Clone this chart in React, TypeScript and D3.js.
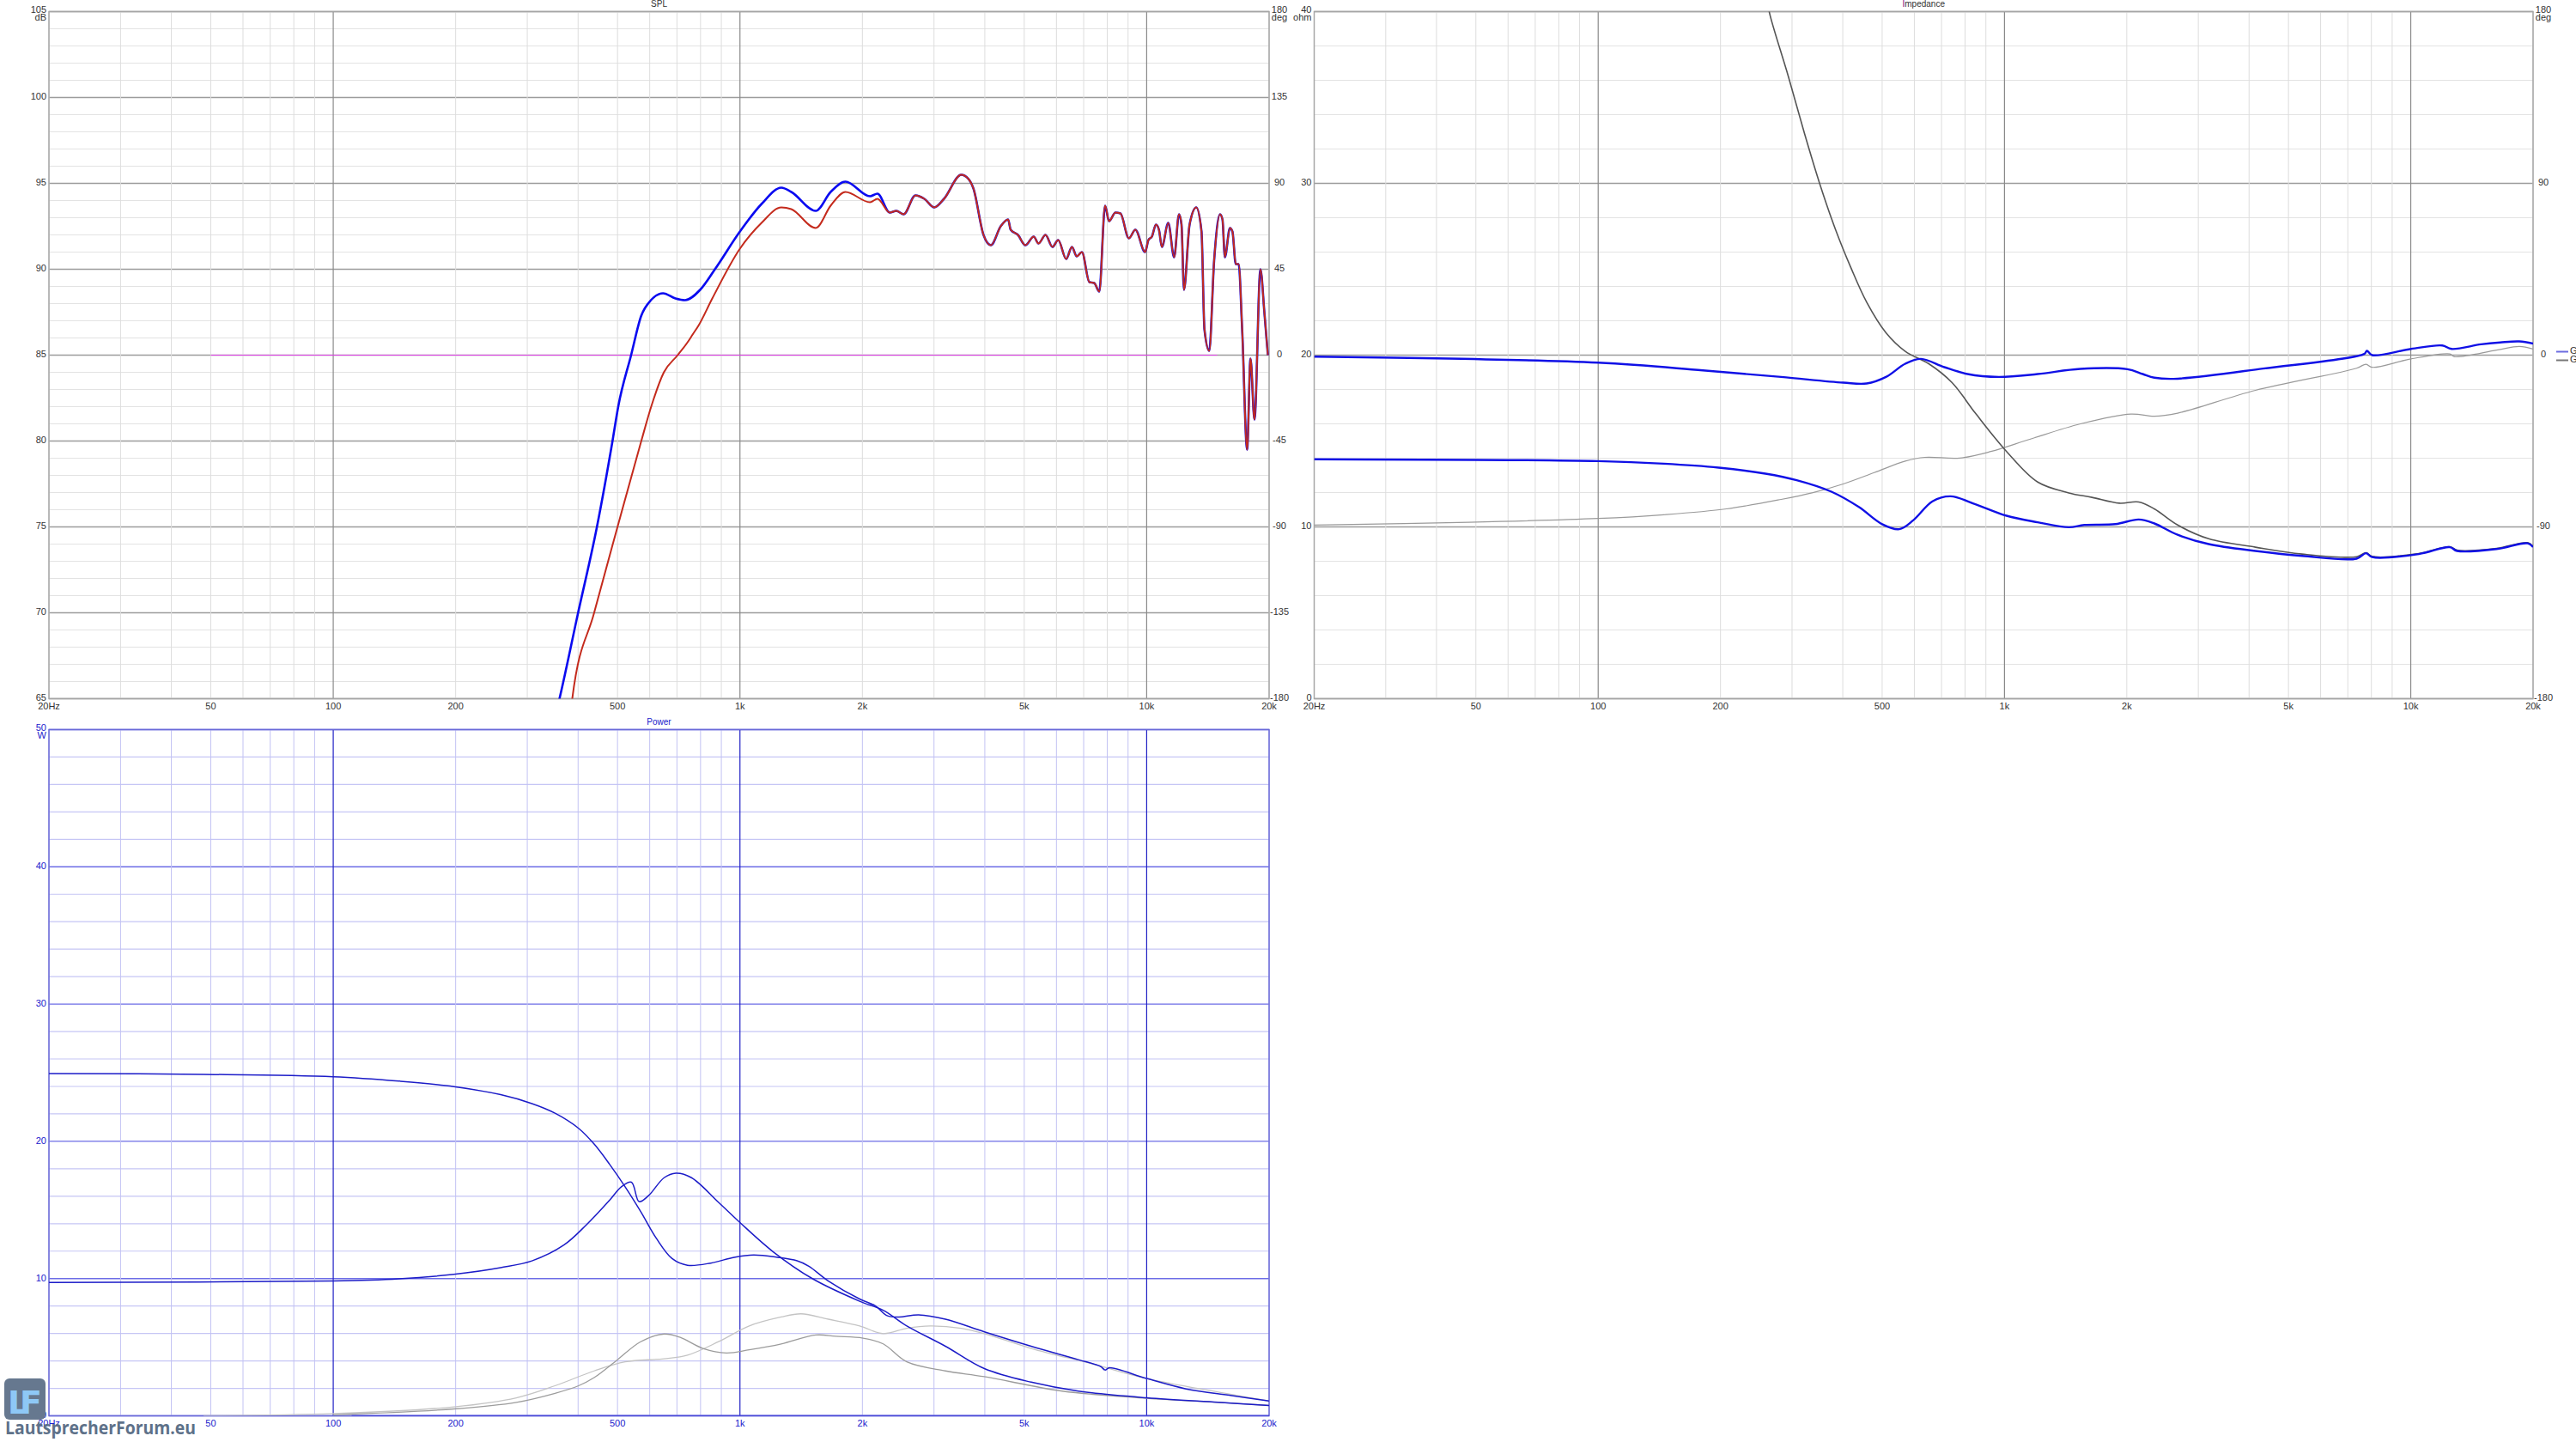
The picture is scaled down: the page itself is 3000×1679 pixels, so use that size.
import React from 'react';
import * as d3 from 'd3';

// x axis (shared by all three panels)
const freqTicks = [20, 50, 100, 200, 500, 1000, 2000, 5000, 10000, 20000];
const freqLabels = ['20Hz', '50', '100', '200', '500', '1k', '2k', '5k', '10k', '20k'];

// SPL panel
const splTicks = [65, 70, 75, 80, 85, 90, 95, 100, 105];
const splPhaseTicks = [-180, -135, -90, -45, 0, 45, 90, 135, 180];
const blueLowFreq = [345, 360, 400, 445, 486, 502, 540, 572, 604, 647, 694, 733, 798, 868, 1000, 1130, 1264, 1337, 1536, 1671, 1817, 2088, 2178];
const blueLowDb = [63.2, 65, 70, 75, 80, 82, 85, 87.3, 88.2, 88.6, 88.3, 88.2, 88.8, 90, 92.2, 93.8, 94.75, 94.5, 93.4, 94.5, 95.1, 94.25, 94.4];
const redLowFreq = [380, 387, 438, 500, 572, 605, 650, 703, 746, 765, 790, 855, 1000, 1130, 1264, 1337, 1536, 1671, 1817, 2088, 2178];
const redLowDb = [63.3, 65, 70, 75, 80, 82, 84, 85, 85.8, 86.2, 86.7, 88.3, 91.2, 92.7, 93.6, 93.5, 92.4, 93.7, 94.5, 93.9, 94.1];
const splHighFreq = [2336, 2424, 2526, 2700, 2840, 3004, 3175, 3500, 3648, 3750, 3970, 4140, 4376, 4564, 4630, 4825, 5032, 5276, 5420, 5640, 5866, 6060, 6340, 6550, 6730, 6930, 7230, 7430, 7646, 7904, 8080, 8380, 8620, 9040, 9380, 9910, 10100, 10300, 10540, 10720, 10900, 11300, 11680, 12010, 12180, 12350, 12750, 13240, 13640, 13870, 14250, 14650, 15150, 15360, 15570, 16020, 16250, 16560, 16830, 17170, 17660, 18000, 18410, 19040, 19470, 19860];
const splHighDb = [93.3, 93.4, 93.2, 94.3, 94.1, 93.6, 94.1, 95.5, 95.25, 94.7, 92, 91.4, 92.5, 92.9, 92.3, 92, 91.4, 91.9, 91.5, 92, 91.3, 91.7, 90.6, 91.3, 90.75, 91, 89.25, 89.2, 88.7, 93.7, 92.8, 93.3, 93.25, 91.8, 92.3, 91, 91.7, 91.9, 92.6, 92.3, 91.3, 92.7, 90.7, 93.2, 92.6, 88.8, 92.6, 93.6, 92.2, 86.5, 85.25, 90.5, 93.2, 92.9, 90.7, 92.4, 92.2, 90.3, 90.3, 86.5, 79.5, 84.8, 81.25, 90, 87.5, 85];
const phaseFreq = [50, 14900];
const phaseDb = [85, 85];

// Impedance panel
const ohmTicks = [0, 10, 20, 30, 40];
const impPhaseTicks = [-180, -90, 0, 90, 180];
const impUpperFreq = [20, 100, 181, 282, 401, 458, 511, 570, 623, 711, 811, 968, 1207, 1538, 2007, 2189, 2338, 2610, 4334, 7684, 7800, 8034, 10015, 11950, 12600, 14890, 16600, 18500, 20000];
const impUpperOhm = [19.91, 19.56, 19.11, 18.73, 18.4, 18.35, 18.73, 19.5, 19.78, 19.3, 18.9, 18.73, 18.9, 19.2, 19.18, 18.9, 18.69, 18.62, 19.22, 20.07, 20.25, 20.0, 20.36, 20.56, 20.36, 20.63, 20.74, 20.8, 20.67];
const impLowerFreq = [20, 100, 145, 198, 258, 308, 375, 438, 500, 551, 596, 665, 737, 848, 1012, 1207, 1440, 1572, 1875, 2140, 2338, 2668, 3182, 4147, 5402, 7356, 7760, 8034, 10470, 12480, 13000, 16260, 19400, 20000];
const impLowerOhm = [13.94, 13.83, 13.68, 13.45, 13.1, 12.72, 12.05, 11.16, 10.16, 9.87, 10.38, 11.49, 11.78, 11.32, 10.65, 10.27, 9.98, 10.11, 10.16, 10.43, 10.2, 9.54, 9.0, 8.6, 8.31, 8.15, 8.47, 8.24, 8.42, 8.82, 8.6, 8.71, 9.04, 8.82];
const impDarkFreq = [262, 264, 294, 322, 351, 384, 419, 458, 511, 570, 651, 743, 848, 1012, 1207, 1440, 1642, 1917, 2140, 2338, 2668, 3182, 4147, 5402, 7356, 7760, 8034, 10470, 12480, 13000, 16260, 19400, 20000];
const impDarkOhm = [40.5, 39.93, 36.2, 32.9, 29.98, 27.3, 25.08, 23.08, 21.3, 20.22, 19.5, 18.4, 16.62, 14.39, 12.61, 11.98, 11.72, 11.38, 11.45, 11.05, 10.11, 9.31, 8.82, 8.42, 8.26, 8.5, 8.28, 8.45, 8.85, 8.65, 8.75, 9.08, 8.86];
const impLightFreq = [20, 48, 100, 145, 207, 282, 336, 401, 478, 570, 637, 776, 926, 1154, 1538, 2048, 2338, 2668, 4147, 7356, 7760, 8034, 10015, 12480, 12800, 16260, 18500, 20000];
const impLightOhm = [10.11, 10.27, 10.49, 10.71, 11.05, 11.6, 11.98, 12.5, 13.16, 13.83, 14.05, 14.01, 14.39, 15.1, 16.0, 16.57, 16.44, 16.62, 17.95, 19.24, 19.47, 19.29, 19.78, 20.07, 19.91, 20.29, 20.51, 20.36];

// Power panel
const wattTicks = [0, 10, 20, 30, 40, 50];
const powAFreq = [20, 48, 100, 145, 198, 258, 308, 351, 401, 438, 478, 522, 570, 623, 681, 743, 848, 968, 1080, 1236, 1382, 1477, 1650, 1969, 2151, 2300, 2460, 2750, 3200, 3990, 5200, 6790, 7700, 7900, 8100, 10000, 12500, 16200, 20000];
const powAW = [24.94, 24.88, 24.71, 24.39, 23.99, 23.4, 22.75, 22.05, 20.95, 19.8, 18.33, 16.69, 14.89, 12.93, 11.46, 10.97, 11.13, 11.55, 11.72, 11.55, 11.29, 10.9, 9.82, 8.51, 8.02, 7.3, 7.2, 7.36, 7.04, 6.12, 5.07, 4.09, 3.6, 3.34, 3.5, 2.72, 1.96, 1.47, 1.08];
const powBFreq = [20, 100, 145, 198, 258, 308, 369, 419, 478, 511, 541, 565, 596, 651, 696, 760, 886, 1000, 1207, 1510, 1969, 2250, 2572, 3200, 3990, 5200, 6790, 10000, 15000, 20000];
const powBW = [9.72, 9.82, 9.98, 10.31, 10.8, 11.29, 12.44, 13.91, 15.71, 16.69, 17.02, 15.61, 16.04, 17.35, 17.68, 17.35, 15.55, 14.08, 11.95, 9.98, 8.35, 7.69, 6.55, 5.07, 3.44, 2.45, 1.8, 1.31, 0.98, 0.75];
const powG1Freq = [100, 198, 282, 351, 401, 438, 500, 570, 651, 711, 811, 926, 1054, 1263, 1538, 1720, 2007, 2250, 2572, 3200, 3990, 6200, 9600, 15000, 20000];
const powG1W = [0.07, 0.5, 0.98, 1.64, 2.19, 2.78, 4.09, 5.4, 5.96, 5.73, 4.91, 4.58, 4.81, 5.24, 5.89, 5.79, 5.66, 5.24, 3.93, 3.27, 2.85, 1.8, 1.31, 0.98, 0.75];
const powG2Freq = [48, 100, 198, 282, 351, 438, 522, 651, 743, 886, 1054, 1263, 1413, 1650, 1969, 2250, 2572, 2936, 3500, 3990, 5200, 7400, 10000, 15000, 20000];
const powG2W = [0, 0.16, 0.65, 1.31, 2.19, 3.27, 3.93, 4.16, 4.42, 5.4, 6.55, 7.2, 7.43, 7.04, 6.55, 5.99, 6.38, 6.55, 6.38, 5.99, 4.91, 3.76, 2.72, 1.73, 1.08];
const powBaseFreq = [111, 20000];
const powBaseW = [0, 0];

const FONT = "'Liberation Sans Narrow', 'Liberation Sans', Arial, sans-serif";

const grayTheme = {
  minorH: '#e3e3e3', majorH: '#9c9c9c', minorV: '#dddddd', majorV: '#8a8a8a',
  border: '#a6a6a6', text: '#333333',
};
const blueTheme = {
  minorH: '#c6c6f5', majorH: '#6c6ce6', minorV: '#c2c2f3', majorV: '#2020c4',
  border: '#6a6ad8', text: '#2020cc',
};

const smooth = d3.curveCatmullRom.alpha(0.5);

type Series = { f: number[]; v: number[]; color: string; width: number; curve?: any };

function Panel(props: {
  id: string; x0: number; y0: number; w: number; h: number;
  yMax: number; minorStep: number; majorStep: number;
  leftTicks: number[]; leftUnit: string; rightTicks?: number[]; rightUnit?: string;
  theme: typeof grayTheme; title: React.ReactNode; series: Series[];
  legend?: boolean;
}) {
  const { id, x0, y0, w, h, yMax, minorStep, majorStep, leftTicks, leftUnit, rightTicks, rightUnit, theme, series } = props;
  const yMin = leftTicks[0];
  const x = d3.scaleLog().domain([20, 20000]).range([x0, x0 + w]);
  const y = d3.scaleLinear().domain([yMin, yMax]).range([y0 + h, y0]);
  const yr = d3.scaleLinear().domain([-180, 180]).range([y0 + h, y0]);
  const minorY = d3.range(yMin, yMax + 0.001, minorStep);
  const gridF = x.ticks();
  const isDecade = (f: number) => Math.abs(Math.log10(f) - Math.round(Math.log10(f))) < 1e-6;

  return (
    <g fontFamily={FONT} fontSize={11} fill={theme.text}>
      <defs>
        <clipPath id={id}>
          <rect x={x0} y={y0} width={w} height={h} />
        </clipPath>
      </defs>
      <text x={x0 + w / 2} y={y0 - 6} textAnchor="middle" fontSize={10}>{props.title}</text>
      {minorY.map((v) => {
        const major = Math.abs(v / majorStep - Math.round(v / majorStep)) < 1e-6;
        return (
          <line key={'h' + v} x1={x0} x2={x0 + w} y1={y(v)} y2={y(v)}
            stroke={major ? theme.majorH : theme.minorH} strokeWidth={major ? 1.4 : 1.2} />
        );
      })}
      {gridF.map((f) => (
        <line key={'v' + f} x1={x(f)} x2={x(f)} y1={y0} y2={y0 + h}
          stroke={isDecade(f) ? theme.majorV : theme.minorV} strokeWidth={isDecade(f) ? 1.2 : 1} />
      ))}
      <rect x={x0} y={y0} width={w} height={h} fill="none" stroke={theme.border} strokeWidth={1.5} />
      <g clipPath={`url(#${id})`}>
        {series.map((s, i) => {
          const pts = s.f.map((f, k) => [f, s.v[k]] as [number, number]);
          const path = d3.line<[number, number]>()
            .x((d) => x(d[0]))
            .y((d) => y(d[1]))
            .curve(s.curve || d3.curveMonotoneX)(pts);
          return <path key={i} d={path || ''} fill="none" stroke={s.color} strokeWidth={s.width} strokeLinejoin="round" />;
        })}
      </g>
      {leftTicks.map((v, i) => (
        <text key={'l' + v} x={x0 - 3} y={y(v) + (i === leftTicks.length - 1 ? -1 : 0)} textAnchor="end" dominantBaseline="middle">{v}</text>
      ))}
      <text x={x0 - 3} y={y(yMax) + 8} textAnchor="end" dominantBaseline="middle">{leftUnit}</text>
      {rightTicks && rightTicks.map((v, i) => (
        <text key={'r' + v} x={x0 + w + 12} y={yr(v) + (i === rightTicks.length - 1 ? -1 : 0)} textAnchor="middle" dominantBaseline="middle">{v}</text>
      ))}
      {rightUnit && <text x={x0 + w + 12} y={y0 + 8} textAnchor="middle" dominantBaseline="middle">{rightUnit}</text>}
      {freqTicks.map((f, i) => (
        <text key={'x' + f} x={x(f)} y={y0 + h + 10} textAnchor="middle" dominantBaseline="middle">{freqLabels[i]}</text>
      ))}
      {props.legend && (
        <g>
          <line x1={x0 + w + 27} x2={x0 + w + 41} y1={y(20) - 4} y2={y(20) - 4} stroke="#6b6be0" strokeWidth={2} />
          <line x1={x0 + w + 27} x2={x0 + w + 41} y1={y(20) + 6} y2={y(20) + 6} stroke="#777" strokeWidth={2} />
          <text x={x0 + w + 43} y={y(20) - 4} dominantBaseline="middle" fill="#333">G</text>
          <text x={x0 + w + 43} y={y(20) + 6} dominantBaseline="middle" fill="#333">G</text>
        </g>
      )}
    </g>
  );
}

export default function App() {
  const splBlue: Series = { f: [...blueLowFreq, ...splHighFreq], v: [...blueLowDb, ...splHighDb], color: '#0a0af0', width: 2.6 };
  const splRed: Series = { f: [...redLowFreq, ...splHighFreq], v: [...redLowDb, ...splHighDb], color: '#c42a1c', width: 2.0 };
  const splPhase: Series = { f: phaseFreq, v: phaseDb, color: '#e040e8', width: 1.2, curve: d3.curveLinear };

  return (
    <svg width={3000} height={1679} style={{ position: 'absolute', left: 0, top: 0, background: '#fff' }}>
      <rect width={3000} height={1679} fill="#fff" />
      <Panel id="clipSpl" x0={57} y0={13.5} w={1421} h={800} yMax={105} minorStep={1} majorStep={5}
        leftTicks={splTicks} leftUnit="dB" rightTicks={splPhaseTicks} rightUnit="deg"
        theme={grayTheme} title="SPL" series={[splPhase, splBlue, splRed]} />
      <Panel id="clipImp" x0={1530.5} y0={13.5} w={1419.5} h={800} yMax={40} minorStep={2} majorStep={10}
        leftTicks={ohmTicks} leftUnit="ohm" rightTicks={impPhaseTicks} rightUnit="deg" legend
        theme={grayTheme}
        title={<><tspan fill="#800080">I</tspan>mpedance</>}
        series={[
          { f: impLightFreq, v: impLightOhm, color: '#9a9a9a', width: 1.2, curve: smooth },
          { f: impDarkFreq, v: impDarkOhm, color: '#555555', width: 1.6, curve: smooth },
          { f: impUpperFreq, v: impUpperOhm, color: '#1010e6', width: 2.4, curve: smooth },
          { f: impLowerFreq, v: impLowerOhm, color: '#1010e6', width: 2.4, curve: smooth },
        ]} />
      <Panel id="clipPow" x0={57} y0={849.5} w={1421} h={799} yMax={50} minorStep={2} majorStep={10}
        leftTicks={wattTicks} leftUnit="W" theme={blueTheme} title="Power"
        series={[
          { f: powBaseFreq, v: powBaseW, color: '#2a2ad8', width: 1.4, curve: d3.curveLinear },
          { f: powG2Freq, v: powG2W, color: '#c4c4c4', width: 1.3, curve: smooth },
          { f: powG1Freq, v: powG1W, color: '#9c9c9c', width: 1.3, curve: smooth },
          { f: powAFreq, v: powAW, color: '#1c1cc8', width: 1.5, curve: smooth },
          { f: powBFreq, v: powBW, color: '#1c1cc8', width: 1.5, curve: smooth },
        ]} />
      {/* forum watermark */}
      <g>
        <rect x={5} y={1605} width={48} height={48} rx={6} fill="#66788f" />
        <text x={9} y={1646} fontFamily="'DejaVu Sans', sans-serif" fontWeight="bold" fontSize={38} fill="#8ec8f6" textLength={40}>LF</text>
        <text x={6} y={1670} fontFamily="'Open Sans', 'DejaVu Sans', sans-serif" fontWeight="bold" fontSize={22} fill="#5e7189" textLength={222} lengthAdjust="spacingAndGlyphs">LautsprecherForum.eu</text>
      </g>
    </svg>
  );
}
